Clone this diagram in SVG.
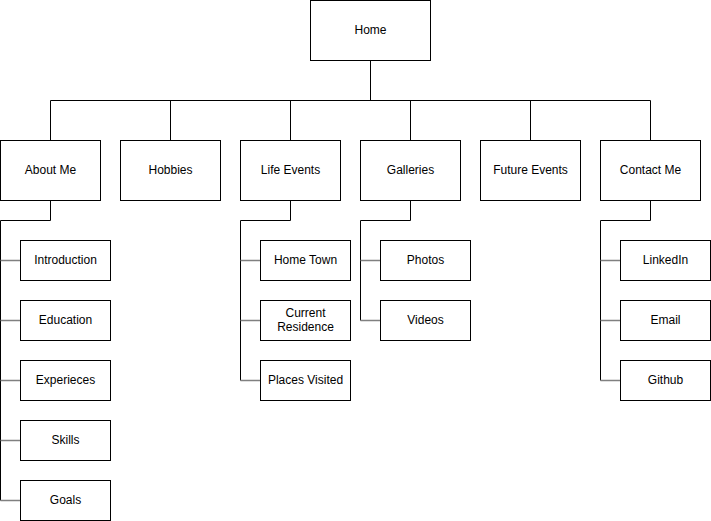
<svg xmlns="http://www.w3.org/2000/svg" width="711" height="521" viewBox="0 0 711 521">
<style>
.box{fill:#fff;stroke:#000;stroke-width:1}
.lbl{font-family:"Liberation Sans",Arial,sans-serif;font-size:12px;fill:#000;text-anchor:middle;dominant-baseline:central}
.ln{fill:none;stroke:#000;stroke-width:1}
.stub{fill:none;stroke:#808080;stroke-width:1.5}
</style>
<rect width="711" height="521" fill="#fff"/>
<g id="connectors">
<path class="ln" d="M370.5 60.5V100.5M50.5 100.5H650.5M50.5 100.5V140.5M170.5 100.5V140.5M290.5 100.5V140.5M410.5 100.5V140.5M530.5 100.5V140.5M650.5 100.5V140.5"/>
<path class="ln" d="M50.5 200.5V220.5H0.5V500.5"/>
<path class="ln" d="M290.5 200.5V220.5H240.5V380.5"/>
<path class="ln" d="M410.5 200.5V220.5H360.5V320.5"/>
<path class="ln" d="M650.5 200.5V220.5H600.5V380.5"/>
<path class="stub" d="M0.5 260.5H20.5M0.5 320.5H20.5M0.5 380.5H20.5M0.5 440.5H20.5M0.5 500.5H20.5"/>
<path class="stub" d="M240.5 260.5H260.5M240.5 320.5H260.5M240.5 380.5H260.5"/>
<path class="stub" d="M360.5 260.5H380.5M360.5 320.5H380.5"/>
<path class="stub" d="M600.5 260.5H620.5M600.5 320.5H620.5M600.5 380.5H620.5"/>
</g>
<g id="home"><rect class="box" x="310.5" y="0.5" width="120" height="60"/><text class="lbl" x="370.5" y="29.5">Home</text></g>
<g id="about"><rect class="box" x="0.5" y="140.5" width="100" height="60"/><text class="lbl" x="50.5" y="169.5">About Me</text></g>
<g id="hobbies"><rect class="box" x="120.5" y="140.5" width="100" height="60"/><text class="lbl" x="170.5" y="169.5">Hobbies</text></g>
<g id="life"><rect class="box" x="240.5" y="140.5" width="100" height="60"/><text class="lbl" x="290.5" y="169.5">Life Events</text></g>
<g id="galleries"><rect class="box" x="360.5" y="140.5" width="100" height="60"/><text class="lbl" x="410.5" y="169.5">Galleries</text></g>
<g id="future"><rect class="box" x="480.5" y="140.5" width="100" height="60"/><text class="lbl" x="530.5" y="169.5">Future Events</text></g>
<g id="contact"><rect class="box" x="600.5" y="140.5" width="100" height="60"/><text class="lbl" x="650.5" y="169.5">Contact Me</text></g>
<g id="intro"><rect class="box" x="20.5" y="240.5" width="90" height="40"/><text class="lbl" x="65.5" y="259.5">Introduction</text></g>
<g id="education"><rect class="box" x="20.5" y="300.5" width="90" height="40"/><text class="lbl" x="65.5" y="319.5">Education</text></g>
<g id="experiences"><rect class="box" x="20.5" y="360.5" width="90" height="40"/><text class="lbl" x="65.5" y="379.5">Experieces</text></g>
<g id="skills"><rect class="box" x="20.5" y="420.5" width="90" height="40"/><text class="lbl" x="65.5" y="439.5">Skills</text></g>
<g id="goals"><rect class="box" x="20.5" y="480.5" width="90" height="40"/><text class="lbl" x="65.5" y="499.5">Goals</text></g>
<g id="hometown"><rect class="box" x="260.5" y="240.5" width="90" height="40"/><text class="lbl" x="305.5" y="259.5">Home Town</text></g>
<g id="residence"><rect class="box" x="260.5" y="300.5" width="90" height="40"/><text class="lbl" x="305.5" y="312.5">Current</text><text class="lbl" x="305.5" y="326.5">Residence</text></g>
<g id="places"><rect class="box" x="260.5" y="360.5" width="90" height="40"/><text class="lbl" x="305.5" y="379.5">Places Visited</text></g>
<g id="photos"><rect class="box" x="380.5" y="240.5" width="90" height="40"/><text class="lbl" x="425.5" y="259.5">Photos</text></g>
<g id="videos"><rect class="box" x="380.5" y="300.5" width="90" height="40"/><text class="lbl" x="425.5" y="319.5">Videos</text></g>
<g id="linkedin"><rect class="box" x="620.5" y="240.5" width="90" height="40"/><text class="lbl" x="665.5" y="259.5">LinkedIn</text></g>
<g id="email"><rect class="box" x="620.5" y="300.5" width="90" height="40"/><text class="lbl" x="665.5" y="319.5">Email</text></g>
<g id="github"><rect class="box" x="620.5" y="360.5" width="90" height="40"/><text class="lbl" x="665.5" y="379.5">Github</text></g>
</svg>
